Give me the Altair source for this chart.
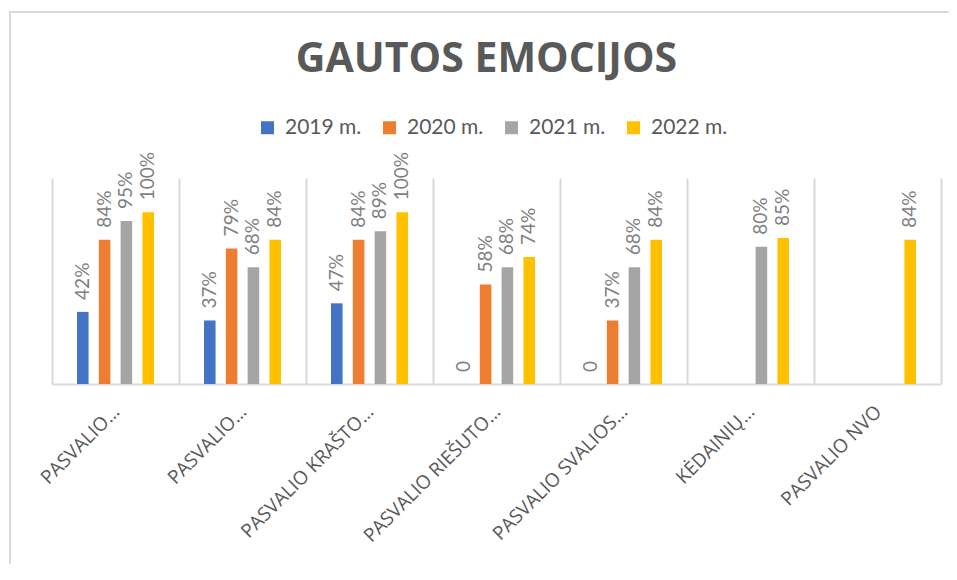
import altair as alt
import pandas as pd

categories = [
    "PASVALIO…",
    "PASVALIO…",
    "PASVALIO KRAŠTO…",
    "PASVALIO RIEŠUTO…",
    "PASVALIO SVALIOS…",
    "KĖDAINIŲ…",
    "PASVALIO NVO",
]
years = ["2019 m.", "2020 m.", "2021 m.", "2022 m."]
values_2019 = [42, 37, 47, 0, 0, None, None]
values_2020 = [84, 79, 84, 58, 37, None, None]
values_2021 = [95, 68, 89, 68, 68, 80, None]
values_2022 = [100, 84, 100, 74, 84, 85, 84]
colors = ["#4472C4", "#ED7D31", "#A5A5A5", "#FFC000"]

series = [values_2019, values_2020, values_2021, values_2022]
rows = []
for year, vals in zip(years, series):
    for ci, v in enumerate(vals):
        if v is None:
            continue
        rows.append({"cat": ci, "year": year, "value": v,
                     "label": f"{v}%" if v else "0"})
df = pd.DataFrame(rows)

label_expr = "[" + ",".join(f"'{c}'" for c in categories) + "][datum.value]"

x = alt.X(
    "cat:O",
    scale=alt.Scale(paddingInner=0, paddingOuter=0),
    axis=alt.Axis(
        title=None, labelExpr=label_expr, labelAngle=315, labelAlign="right",
        labelBaseline="top", labelPadding=18, labelOffset=-6,
        labelFont="Open Sans", labelFontSize=19,
        labelColor="#595959", labelLimit=400, ticks=False, grid=True,
        tickBand="extent", gridColor="#d9d9d9", gridWidth=2,
        domainColor="#d9d9d9", domainWidth=2,
    ),
)
xo = alt.XOffset("year:N", scale=alt.Scale(domain=years, range=[25, 102],
                                           paddingInner=0.47, paddingOuter=0))
y = alt.Y("value:Q", scale=alt.Scale(domain=[0, 120]), axis=None)

bars = alt.Chart(df).mark_bar().encode(
    x=x, xOffset=xo, y=y,
    color=alt.Color(
        "year:N", title=None,
        scale=alt.Scale(domain=years, range=colors),
        legend=alt.Legend(
            orient="none", legendX=205, legendY=-61, direction="horizontal",
            columns=4, symbolType="square", symbolSize=169, symbolStrokeWidth=0,
            labelFont="Lato", labelFontSize=21, labelColor="#595959",
            labelOffset=7, columnPadding=17,
        ),
    ),
)
texts = alt.Chart(df).mark_text(
    angle=270, align="left", baseline="middle", dx=12,
    font="Lato", fontSize=19, color="#7f7f7f",
).encode(x=x, xOffset=xo, y=y, text="label:N")

frame = alt.Chart(alt.Data(values=[{}])).mark_rect(
    fillOpacity=0, stroke="#d9d9d9", strokeWidth=2
).encode(x=alt.value(-42), x2=alt.value(980), y=alt.value(-166), y2=alt.value(1000))

chart = alt.layer(frame, bars, texts).properties(
    width=889, height=206,
    title=alt.Title("GAUTOS EMOCIJOS", font="Open Sans", fontSize=41,
                    fontWeight="bold", color="#595959", anchor="middle",
                    baseline="alphabetic", dx=-10, offset=-102),
    padding={"left": 44, "top": 170, "right": 8, "bottom": 180},
    autosize=alt.AutoSizeParams(type="none"),
).configure_view(strokeOpacity=0)

chart.save("out.html", embed_options={"renderer": "svg", "actions": False})
